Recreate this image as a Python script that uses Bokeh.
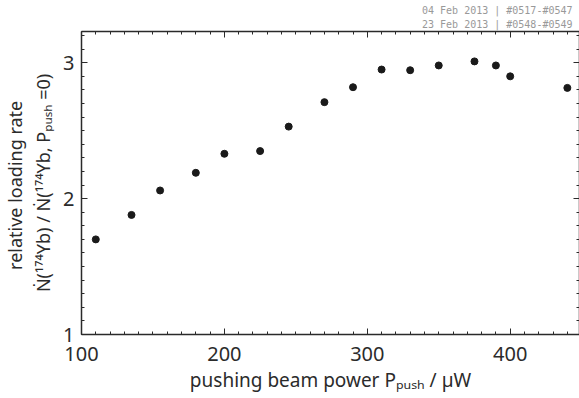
from bokeh.plotting import figure
from bokeh.models import LinearAxis, SingleIntervalTicker, CustomJSTickFormatter, Title
from bokeh.embed import file_html
from bokeh.resources import INLINE

# data
power_uw = [110, 135, 155, 180, 200, 225, 245, 270, 290, 310, 330, 350, 375, 390, 400, 440]
rel_rate = [1.70, 1.88, 2.06, 2.19, 2.33, 2.35, 2.53, 2.71, 2.82, 2.95, 2.945, 2.98, 3.01, 2.98, 2.90, 2.815]
x_ticks = [100, 200, 300, 400]
y_ticks = [1, 2, 3]
x_title = "pushing beam power P\u209A\u1D64\u209B\u2095 / \u00B5W"
y_title = ("relative  loading rate\n"
           "\u1E44(\u00B9\u2077\u2074Yb) / \u1E44(\u00B9\u2077\u2074Yb, P\u209A\u1D64\u209B\u2095 =0)")
stamp_lines = ["04 Feb 2013 | #0517-#0547", "23 Feb 2013 | #0548-#0549"]

FONT = "Noto Sans"
TXT = "#2b2b2b"
LINE = "#2a2a2a"

p = figure(width=579, height=398, x_range=(100, 448.5), y_range=(1, 3.23),
           output_backend="svg", toolbar_location=None,
           min_border_left=81, min_border_right=0, min_border_top=31, min_border_bottom=64)
p.xaxis.visible = False
p.yaxis.visible = False
p.grid.visible = False
p.outline_line_color = None
p.background_fill_color = "white"
p.border_fill_color = "white"


def style(ax, labels=True, standoff=7):
    ax.axis_line_color = LINE
    ax.axis_line_width = 1.5
    ax.major_tick_line_color = LINE
    ax.minor_tick_line_color = LINE
    ax.major_tick_in = 6
    ax.major_tick_out = 0
    ax.minor_tick_in = 3
    ax.minor_tick_out = 0
    if labels:
        ax.major_label_text_font = FONT
        ax.major_label_text_font_size = "20px"
        ax.major_label_text_color = TXT
        ax.major_label_standoff = standoff
    else:
        ax.formatter = CustomJSTickFormatter(code="return ''")
        ax.major_label_standoff = 0


xt = SingleIntervalTicker(interval=100, num_minor_ticks=10)
yt = SingleIntervalTicker(interval=1, num_minor_ticks=10)

ax_b = LinearAxis(ticker=xt, axis_label=x_title)
style(ax_b, standoff=12)
ax_b.axis_label_text_font = FONT
ax_b.axis_label_text_font_size = "19px"
ax_b.axis_label_text_font_style = "normal"
ax_b.axis_label_text_color = TXT
ax_b.axis_label_standoff = 3
p.add_layout(ax_b, "below")

ax_t = LinearAxis(ticker=xt)
style(ax_t, labels=False)
p.add_layout(ax_t, "above")

ax_l = LinearAxis(ticker=yt, axis_label=y_title)
style(ax_l)
ax_l.axis_label_text_font = FONT
ax_l.axis_label_text_font_size = "18px"
ax_l.axis_label_text_font_style = "normal"
ax_l.axis_label_text_color = TXT
ax_l.axis_label_text_line_height = 1.15
ax_l.axis_label_standoff = 5
p.add_layout(ax_l, "left")

ax_r = LinearAxis(ticker=yt)
style(ax_r, labels=False)
p.add_layout(ax_r, "right")

p.scatter(power_uw, rel_rate, size=7, color="#1a1a1a")

stamp = Title(text="\n".join(stamp_lines), align="right", offset=7, standoff=2,
              text_font="DejaVu Sans Mono", text_font_size="10px", text_font_style="normal",
              text_color="#999999", text_line_height=1.3)
p.add_layout(stamp, "above")

open("out.html", "w").write(file_html(p, INLINE))
